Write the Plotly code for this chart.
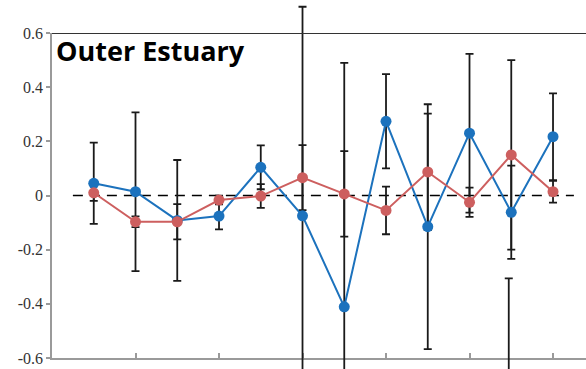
import plotly.graph_objects as go

# Station index along the transect
stations = list(range(1, 13))

# Series means and their error half-widths
blue_vals = [0.045, 0.014, -0.092, -0.076, 0.104, -0.075, -0.411, 0.274, -0.115, 0.230, -0.062, 0.217]
blue_err = [0.150, 0.293, 0.223, 0.049, 0.081, 0.772, 0.901, 0.174, 0.452, 0.293, 0.172, 0.160]
red_vals = [0.010, -0.097, -0.097, -0.017, -0.002, 0.066, 0.006, -0.055, 0.087, -0.025, 0.150, 0.014]
red_err = [0.030, 0.020, 0.065, 0.016, 0.044, 0.120, 0.158, 0.088, 0.215, 0.054, 0.350, 0.040]

# A point that falls below the plotted range; only its upper error bar shows
offscale_x = [10.94]
offscale_vals = [-0.95]
offscale_err = [0.644]

y_ticks = [-0.6, -0.4, -0.2, 0, 0.2, 0.4, 0.6]
y_ticklabels = ["-0.6", "-0.4", "-0.2", "0", "0.2", "0.4", "0.6"]
x_ticks = [2, 4, 6, 8, 10, 12]

BLUE = "#1c72bd"
RED = "#cd5f5f"
BAR = "#1a1a1a"
TICK_FONT = "Liberation Serif"

# Figure geometry: the visible axis box sits inside a taller drawing layer so
# that long error bars can run past the axis box without being cut off.
W, H = 586, 369
BOX_TOP, BOX_BOTTOM = 33, 358
Y_LO, Y_HI = -0.6, 0.6
px_per_unit = (BOX_BOTTOM - BOX_TOP) / (Y_HI - Y_LO)
draw_range = [Y_LO - (H - BOX_BOTTOM) / px_per_unit, Y_HI + BOX_TOP / px_per_unit]

fig = go.Figure()


def err_trace(x, y, e):
    return go.Scatter(
        x=x, y=y, mode="markers", yaxis="y2",
        marker=dict(size=2, opacity=0),
        error_y=dict(type="data", array=e, visible=True,
                     color=BAR, thickness=1.8, width=4),
        hoverinfo="skip", showlegend=False,
    )


# error bars first so the lines and markers sit on top
fig.add_trace(err_trace(offscale_x, offscale_vals, offscale_err))
fig.add_trace(err_trace(stations, blue_vals, blue_err))
fig.add_trace(err_trace(stations, red_vals, red_err))

fig.add_trace(go.Scatter(
    x=stations, y=blue_vals, mode="lines+markers", yaxis="y2",
    line=dict(color=BLUE, width=2),
    marker=dict(color=BLUE, size=11),
    showlegend=False,
))
fig.add_trace(go.Scatter(
    x=stations, y=red_vals, mode="lines+markers", yaxis="y2",
    line=dict(color=RED, width=2),
    marker=dict(color=RED, size=11),
    showlegend=False,
))

# dashed zero reference
fig.add_shape(type="line", xref="x", yref="y", x0=0.5, x1=12.5, y0=0, y1=0,
              line=dict(color="black", width=1.3, dash="10px,7px"), layer="below")
# dark frame line along the top
fig.add_shape(type="line", xref="paper", yref="y", x0=0, x1=1, y0=Y_HI, y1=Y_HI,
              line=dict(color="#333333", width=1.8))

fig.add_annotation(
    text="<b>Outer Estuary</b>", xref="paper", yref="paper",
    x=0.004, y=1 - 30 / H, xanchor="left", yanchor="top", showarrow=False,
    font=dict(family="Open Sans", size=27, color="black"),
)

fig.update_layout(
    width=W, height=H,
    margin=dict(l=52, r=0, t=0, b=0, autoexpand=False),
    plot_bgcolor="rgba(0,0,0,0)", paper_bgcolor="white",
    font=dict(family=TICK_FONT, size=16, color="#333333"),
    showlegend=False,
    xaxis=dict(
        range=[0, 12.79], domain=[0, 1], anchor="y", automargin=False,
        showgrid=False, zeroline=False,
        showline=True, linecolor="#9a9a9a", linewidth=1.5,
        tickvals=x_ticks, ticks="inside", ticklen=5, tickwidth=1.5,
        tickcolor="#9a9a9a", showticklabels=False,
    ),
    yaxis=dict(
        range=[Y_LO, Y_HI], domain=[(H - BOX_BOTTOM) / H, (H - BOX_TOP) / H],
        anchor="x", automargin=False, showgrid=False, zeroline=False,
        showline=True, linecolor="#9a9a9a", linewidth=1.5,
        tickmode="array", tickvals=y_ticks, ticktext=y_ticklabels,
        ticks="outside", ticklen=4, tickwidth=1.5, tickcolor="#9a9a9a",
        tickfont=dict(family=TICK_FONT, size=16, color="#333333"),
    ),
    yaxis2=dict(
        range=draw_range, domain=[0, 1], anchor="x", visible=False,
        automargin=False,
    ),
)

fig.write_html("out.html")
